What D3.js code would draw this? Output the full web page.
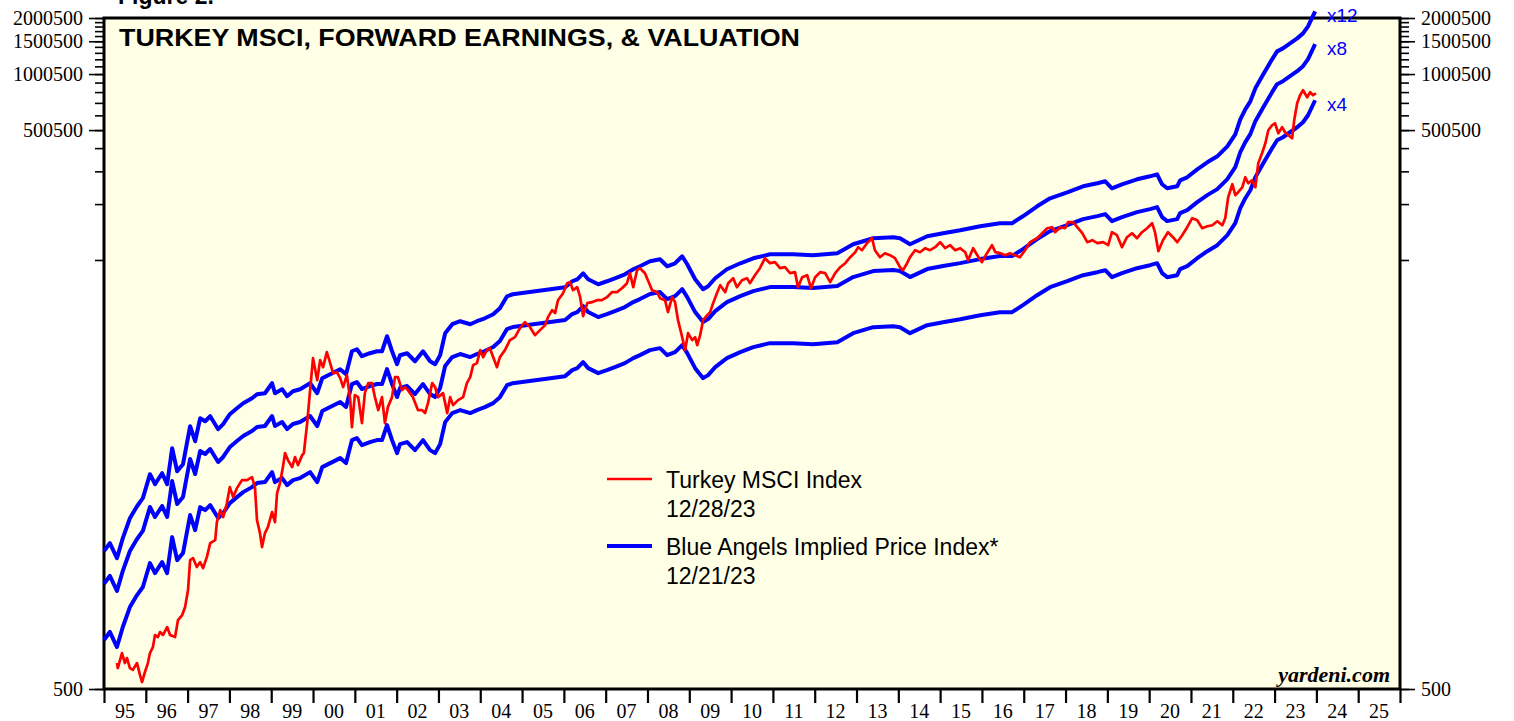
<!DOCTYPE html>
<html>
<head>
<meta charset="utf-8">
<script src="https://cdn.jsdelivr.net/npm/d3@7/dist/d3.min.js"></script>
<style>
  body { margin: 0; background: #ffffff; }
  .axis path.domain { display: none; }
  .axis line { stroke: #000; stroke-width: 1.6px; }
  .axis text { font-family: "Liberation Serif", "Times New Roman", serif; font-size: 20px; fill: #000; }
  .legendText { font-family: "Liberation Sans", Arial, sans-serif; font-size: 23px; fill: #000; }
</style>
</head>
<body>
<div id="chart"></div>
<script>
// Turkey MSCI index (decimal year, index level)
var msciDates = [1995.31,1995.33,1995.43,1995.50,1995.55,1995.62,1995.69,1995.79,1995.86,1995.91,1995.98,
  1996.05,1996.10,1996.17,1996.22,1996.29,1996.34,1996.41,1996.51,1996.58,1996.70,1996.77,1996.87,1996.94,
  1997.01,1997.06,1997.13,1997.22,1997.30,1997.37,1997.46,1997.54,1997.66,1997.70,1997.78,1997.85,1997.94,
  1998.01,1998.09,1998.18,1998.30,1998.42,1998.54,1998.61,1998.66,1998.73,1998.78,1998.85,1998.92,
  1999.02,1999.09,1999.14,1999.21,1999.28,1999.33,1999.40,1999.50,1999.57,1999.64,1999.74,1999.78,1999.86,1999.93,
  2000.00,2000.10,2000.17,2000.24,2000.33,2000.41,2000.48,2000.57,2000.65,2000.72,2000.81,2000.89,2000.93,
  2001.00,2001.08,2001.17,2001.24,2001.32,2001.41,2001.48,2001.56,2001.65,2001.72,2001.79,2001.89,2001.96,
  2002.03,2002.13,2002.20,2002.27,2002.39,2002.51,2002.61,2002.68,2002.75,2002.85,2002.92,2002.99,
  2003.11,2003.21,2003.28,2003.35,2003.47,2003.59,2003.68,2003.76,2003.83,2003.92,
  2004.00,2004.07,2004.16,2004.23,2004.31,2004.40,2004.47,2004.59,2004.71,2004.83,2004.95,
  2005.07,2005.19,2005.31,2005.43,2005.55,2005.62,2005.72,2005.79,2005.86,2005.98,
  2006.08,2006.15,2006.22,2006.32,2006.39,2006.46,2006.56,2006.67,2006.79,2006.91,
  2007.03,2007.15,2007.27,2007.39,2007.51,2007.58,2007.66,2007.75,2007.82,2007.94,
  2008.01,2008.11,2008.23,2008.30,2008.42,2008.49,2008.59,2008.66,2008.73,2008.83,2008.90,2008.97,
  2009.07,2009.14,2009.19,2009.26,2009.33,2009.43,2009.50,2009.57,2009.67,2009.74,2009.86,2009.93,
  2010.05,2010.14,2010.26,2010.38,2010.45,2010.57,2010.69,2010.81,2010.93,
  2011.05,2011.17,2011.29,2011.41,2011.53,2011.60,2011.70,2011.82,2011.91,
  2012.01,2012.13,2012.25,2012.37,2012.49,2012.61,2012.73,2012.85,2012.97,
  2013.04,2013.13,2013.25,2013.37,2013.44,2013.56,2013.68,2013.80,2013.92,
  2014.04,2014.11,2014.21,2014.28,2014.40,2014.52,2014.64,2014.76,2014.88,
  2015.00,2015.12,2015.24,2015.36,2015.48,2015.60,2015.67,2015.79,2015.89,
  2016.00,2016.12,2016.24,2016.32,2016.44,2016.56,2016.67,2016.79,2016.91,
  2017.03,2017.15,2017.32,2017.44,2017.56,2017.68,2017.75,2017.87,2017.99,
  2018.06,2018.18,2018.28,2018.40,2018.52,2018.64,2018.76,2018.90,
  2019.02,2019.11,2019.23,2019.35,2019.47,2019.59,2019.71,2019.83,2019.95,
  2020.07,2020.14,2020.22,2020.33,2020.45,2020.57,2020.67,2020.79,2020.91,
  2021.03,2021.15,2021.27,2021.39,2021.51,2021.63,2021.75,2021.82,2021.89,2021.99,
  2022.06,2022.13,2022.23,2022.30,2022.37,2022.46,2022.54,2022.61,2022.70,2022.78,2022.85,2022.94,
  2023.01,2023.09,2023.18,2023.25,2023.33,2023.42,2023.47,2023.54,2023.61,2023.68,2023.78,2023.85,2023.92,2023.99];

var msciValues = [689,648,780,689,733,648,633,689,595,545,617,
  689,780,839,974,950,1011,974,1075,974,950,1172,1247,1377,
  1699,2461,2522,2257,2401,2229,2553,3036,3151,3935,4565,4186,4977,
  6065,5360,5990,6613,6613,6862,6065,4034,3436,2889,3436,3699,
  4453,3935,5632,6373,7765,9232,8468,7765,8786,7960,9007,9232,13375,20109,
  29858,22753,29132,26716,32158,28071,24809,25117,23321,20866,24203,17771,12729,
  18903,18441,13375,19376,21925,21925,18441,15706,18441,13375,16298,18441,23611,
  23611,20109,20866,20109,18441,15706,15706,15134,17124,21925,20866,18441,
  19376,15134,18441,16706,17771,18441,21925,23611,27386,28071,
  32963,30229,32963,33786,30229,26716,30229,32963,37299,38704,43257,
  46588,43794,39674,42205,44892,49554,54035,52068,61143,66664,
  75432,76371,69183,71790,63445,50172,58916,59649,61143,61143,
  63445,67493,67493,70908,75432,85352,71790,88578,90785,85352,
  78283,69183,67493,62666,61143,52716,63445,59649,47755,38704,32963,40668,
  37299,38704,35063,39674,47755,50796,52716,58916,67493,73590,67493,75432,
  80236,71790,78283,80236,75432,83268,90785,102729,96578,
  97780,90785,91915,85352,86414,71790,81231,83268,70908,
  81231,86414,85352,76371,85352,91915,96578,104004,110640,
  117682,113410,123653,131524,113410,104004,109280,106611,102729,
  91915,88578,96578,104004,113410,110640,116240,113410,117682,
  125191,116240,120633,113410,116240,110640,100229,116240,106611,
  97780,109280,120633,110640,109280,106611,109280,106611,104004,
  113410,125191,131524,139915,148826,150673,141656,150673,148826,
  160287,160287,150673,139915,125191,128327,123653,125191,
  120633,141656,136499,117682,133160,139915,131524,141656,148826,
  158318,141656,112010,128327,141656,133160,125191,136499,150673,
  168395,164300,148826,152555,154451,162271,154451,168395,218284,256342,
  223757,232212,246992,279477,259523,269330,246992,332277,375979,425427,499571,531389,
  544689,481378,518391,487368,469623,452504,565274,697389,769840,818940,751009,798928,769840,789109];

// forward earnings behind the Blue Angels bands (decimal year, earnings)
var fwdDates = [1995.00,1995.14,1995.31,1995.45,1995.62,1995.79,1995.93,
  1996.10,1996.22,1996.39,1996.51,1996.63,1996.75,1996.89,
  1997.06,1997.18,1997.30,1997.42,1997.54,1997.73,1997.85,
  1998.01,1998.18,1998.33,1998.54,1998.66,1998.85,
  1999.02,1999.09,1999.26,1999.38,1999.52,1999.69,1999.93,
  2000.10,2000.22,2000.41,2000.65,2000.79,2000.93,
  2001.05,2001.17,2001.36,2001.53,2001.65,2001.77,2001.89,
  2002.01,2002.08,2002.25,2002.44,2002.63,2002.80,2002.92,
  2003.04,2003.16,2003.33,2003.52,2003.76,2003.92,
  2004.11,2004.31,2004.47,2004.64,2004.78,
  2006.03,2006.20,2006.32,2006.46,2006.58,2006.82,
  2007.03,2007.22,2007.46,2007.66,2007.82,
  2008.06,2008.30,2008.47,2008.66,2008.83,2008.95,
  2009.14,2009.33,2009.45,2009.62,2009.90,
  2010.22,2010.53,2010.93,2011.48,2011.96,2012.54,2012.92,
  2013.40,2013.88,2014.04,2014.28,2014.69,
  2015.07,2015.48,2015.96,2016.43,2016.72,2016.98,
  2017.32,2017.63,2018.04,2018.42,2018.76,2018.95,
  2019.11,2019.35,2019.71,2020.02,2020.19,2020.31,2020.43,2020.67,2020.74,2020.91,
  2021.15,2021.39,2021.63,2021.87,
  2022.06,2022.18,2022.30,2022.42,2022.54,2022.73,2022.94,
  2023.06,2023.20,2023.37,2023.54,2023.68,2023.80,2023.97];

var fwdEarnings = [229,253,210,269,344,399,441,
  593,524,600,524,817,615,671,
  1073,891,1184,1141,1214,1034,1100,
  1244,1340,1425,1516,1593,1613,
  1825,1613,1695,1554,1653,1695,1825,
  1613,1941,2040,2170,2040,2710,
  2778,2548,2644,2710,2710,3262,2710,
  2308,2580,2644,2395,2710,2395,2308,
  2580,3385,3784,3927,3784,3927,
  4074,4281,4610,5347,5481,
  5976,6437,6597,7105,6597,6202,
  6437,6679,7018,7465,7747,
  8241,8447,7747,8040,8766,7941,
  6597,5830,6051,6679,7465,
  8040,8551,8985,8985,8875,9097,10167,
  10949,11085,10949,10167,11223,
  11647,12086,12699,13179,13179,14370,
  16259,17948,19329,20817,21604,22144,
  20308,21338,22697,23555,24145,21338,20308,20817,22418,23266,
  25682,28001,30157,34124,
  39580,47637,53902,59506,69869,83069,99981,
  110376,114534,121842,129598,137867,150320,180936];

var multiples = [12, 8, 4];

// axis ticks and labels
var majorTicks = [500, 500500, 1000500, 1500500, 2000500];
var minorTicks = d3.range(0, 21).map(k => k * 100000 + 500);
var yearTicks = d3.range(1995, 2027);
var yearLabels = ["95","96","97","98","99","00","01","02","03","04","05","06","07","08","09","10",
  "11","12","13","14","15","16","17","18","19","20","21","22","23","24","25"];

var svgWidth = 1514;
var svgHeight = 721;

var plot = { left: 104, right: 1400, top: 18, bottom: 689 };

var svg = d3.select("#chart")
  .append("svg")
  .attr("width", svgWidth)
  .attr("height", svgHeight);

var xScale = d3.scaleLinear()
  .domain([1995, 2026])
  .range([plot.left, plot.right]);

var yScale = d3.scaleLog()
  .domain([500, 2000500])
  .range([plot.bottom, plot.top]);

// plot background
svg.append("rect")
  .attr("x", plot.left)
  .attr("y", plot.top)
  .attr("width", plot.right - plot.left)
  .attr("height", plot.bottom - plot.top)
  .attr("fill", "#ffffe6");

// y axes, minor ticks first then the labelled ones
var fmt = d3.format("d");
svg.append("g").attr("class", "axis")
  .attr("transform", `translate(${plot.left - 1}, 0)`)
  .call(d3.axisLeft(yScale).tickValues(minorTicks).tickSize(8).tickFormat(""));
svg.append("g").attr("class", "axis")
  .attr("transform", `translate(${plot.left - 1}, 0)`)
  .call(d3.axisLeft(yScale).tickValues(majorTicks).tickSize(14).tickPadding(6).tickFormat(fmt));
svg.append("g").attr("class", "axis")
  .attr("transform", `translate(${plot.right + 1}, 0)`)
  .call(d3.axisRight(yScale).tickValues(minorTicks).tickSize(8).tickFormat(""));
svg.append("g").attr("class", "axis")
  .attr("transform", `translate(${plot.right + 1}, 0)`)
  .call(d3.axisRight(yScale).tickValues(majorTicks).tickSize(14).tickPadding(6).tickFormat(fmt));

// x axis: year ticks, labels centred in each year
var xAxis = svg.append("g").attr("class", "axis")
  .attr("transform", `translate(0, ${plot.bottom + 1})`)
  .call(d3.axisBottom(xScale).tickValues(yearTicks).tickSize(13).tickFormat(""));
xAxis.selectAll("line").style("stroke-width", "2.2px");

svg.append("g").selectAll("text")
  .data(yearLabels)
  .enter()
  .append("text")
  .attr("x", (d, i) => xScale(1995 + i + 0.5))
  .attr("y", 718)
  .attr("text-anchor", "middle")
  .style("font-family", "'Liberation Serif', 'Times New Roman', serif")
  .style("font-size", "20px")
  .text(d => d);

// plot frame
svg.append("rect")
  .attr("x", plot.left)
  .attr("y", plot.top)
  .attr("width", plot.right - plot.left)
  .attr("height", plot.bottom - plot.top)
  .attr("fill", "none")
  .attr("stroke", "#000")
  .attr("stroke-width", 3);

// blue angels bands
var bandData = multiples.map(m => ({
  m: m,
  values: fwdDates.map((t, i) => ({ t: t, v: fwdEarnings[i] * m }))
}));

var line = d3.line()
  .x(d => xScale(d.t))
  .y(d => yScale(d.v));

svg.append("g").selectAll("path")
  .data(bandData)
  .enter()
  .append("path")
  .attr("d", d => line(d.values))
  .attr("fill", "none")
  .attr("stroke", "#0000ff")
  .attr("stroke-width", 4)
  .attr("stroke-linejoin", "round");

svg.append("g").selectAll("text")
  .data(bandData)
  .enter()
  .append("text")
  .attr("x", 1327)
  .attr("y", d => yScale(d.values[d.values.length - 1].v) + 11)
  .style("font-family", "'Liberation Sans', Arial, sans-serif")
  .style("font-size", "19px")
  .attr("fill", "#0000ff")
  .text(d => "x" + d.m);

// turkey msci index
var msciData = msciDates.map((t, i) => ({ t: t, v: msciValues[i] }));
svg.append("path")
  .datum(msciData)
  .attr("d", line)
  .attr("fill", "none")
  .attr("stroke", "#ff0000")
  .attr("stroke-width", 2.7)
  .attr("stroke-linejoin", "round");

// titles
svg.append("text")
  .attr("x", 118)
  .attr("y", 4)
  .style("font-family", "'Liberation Sans', Arial, sans-serif")
  .style("font-weight", "bold")
  .style("font-size", "23px")
  .text("Figure 2.");

svg.append("text")
  .attr("x", 119)
  .attr("y", 46)
  .attr("textLength", 681)
  .attr("lengthAdjust", "spacingAndGlyphs")
  .style("font-family", "'Liberation Sans', Arial, sans-serif")
  .style("font-weight", "bold")
  .style("font-size", "24px")
  .text("TURKEY MSCI, FORWARD EARNINGS, & VALUATION");

svg.append("text")
  .attr("x", 1390)
  .attr("y", 682)
  .attr("text-anchor", "end")
  .style("font-family", "'Liberation Serif', 'Times New Roman', serif")
  .style("font-weight", "bold")
  .style("font-style", "italic")
  .style("font-size", "22px")
  .text("yardeni.com");

// legend
var legendItems = [
  { color: "#ff0000", width: 2.5, y: 479, lines: ["Turkey MSCI Index", "12/28/23"] },
  { color: "#0000ff", width: 4, y: 546, lines: ["Blue Angels Implied Price Index*", "12/21/23"] }
];

var legend = svg.append("g");
legendItems.forEach(function(item) {
  legend.append("line")
    .attr("x1", 607).attr("x2", 652)
    .attr("y1", item.y).attr("y2", item.y)
    .attr("stroke", item.color)
    .attr("stroke-width", item.width);
  item.lines.forEach(function(txt, j) {
    legend.append("text")
      .attr("class", "legendText")
      .attr("x", 666)
      .attr("y", item.y + 9 + j * 28.5)
      .text(txt);
  });
});
</script>
</body>
</html>
